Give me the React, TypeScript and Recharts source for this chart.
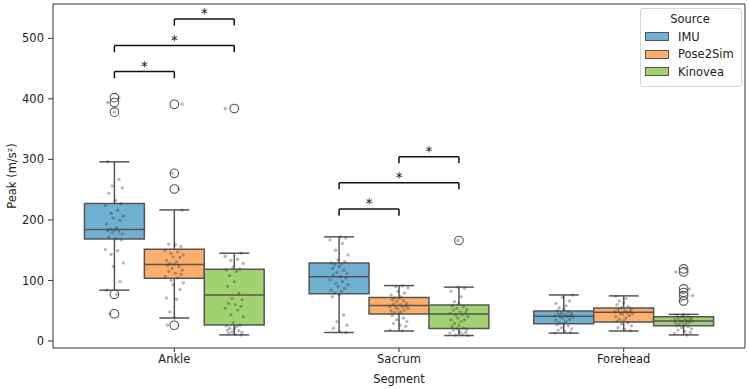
import { ComposedChart, XAxis, YAxis, Scatter, ReferenceArea, ReferenceLine, ReferenceDot, Legend } from 'recharts'

const SEGMENTS = ['Ankle', 'Sacrum', 'Forehead']
const SOURCES = ['IMU', 'Pose2Sim', 'Kinovea']
const COLORS = ['#70b0d3', '#fdae6b', '#a2d270']

// per segment: [lower whisker, q1, median, q3, upper whisker]
const IMU_BOX = [[84, 168.5, 184, 227, 296], [14, 78, 106, 129, 172], [13, 28.5, 41, 49.5, 76]]
const POSE_BOX = [[38, 103.5, 126.5, 151.5, 216.5], [16.5, 44.5, 58.5, 72, 91.5], [16.5, 31.5, 47.5, 54.5, 74.5]]
const KINOVEA_BOX = [[10, 26.5, 76, 118.5, 145], [9, 20.5, 44.5, 59.5, 89], [10, 25, 33, 40, 44]]

// raw peaks (stripplot), outliers included
const ANKLE_IMU = [296, 267, 256, 253, 244, 232, 227, 224, 216, 211, 206, 203, 199, 193, 187, 185, 183, 182, 181, 179, 177, 172, 169, 167, 151, 149, 143, 129, 123, 98, 84, 77, 45, 378, 394, 402]
const ANKLE_POSE = [216, 160, 159, 156, 150, 147, 145, 142, 139, 138, 133, 131, 128, 127, 125, 123, 120, 117, 115, 112, 110, 106, 104, 100, 96, 93, 85, 71, 69, 48, 38, 26, 251, 277, 391]
const ANKLE_KIN = [145, 140, 135, 133, 128, 122, 119, 117, 115, 108, 98, 90, 79, 70, 68, 62, 60, 57, 54, 51, 43, 40, 30, 26, 25, 24, 21, 20, 18, 17, 15, 14, 13, 11, 10, 384]
const SACRUM_IMU = [172, 170, 167, 161, 150, 142, 134, 131, 129, 127, 126, 123, 120, 117, 113, 112, 109, 106, 104, 101, 98, 95, 93, 90, 87, 84, 82, 79, 76, 73, 43, 32, 26, 21, 15, 14]
const SACRUM_POSE = [91, 90, 88, 82, 79, 76, 73, 71, 70, 68, 66, 65, 62, 61, 60, 58, 57, 56, 55, 54, 53, 51, 50, 48, 47, 46, 42, 38, 35, 32, 29, 26, 24, 18, 17]
const SACRUM_KIN = [89, 87, 82, 73, 65, 62, 58, 57, 54, 52, 51, 48, 47, 46, 44, 43, 40, 38, 35, 35, 32, 29, 26, 24, 21, 20, 19, 18, 15, 14, 13, 11, 10, 9, 166]
const FOREHEAD_IMU = [76, 72, 66, 62, 58, 55, 52, 50, 48, 46, 45, 44, 43, 42, 41, 41, 40, 39, 38, 36, 34, 32, 30, 29, 27, 25, 22, 20, 18, 16, 14, 13]
const FOREHEAD_POSE = [74, 70, 66, 63, 60, 57, 55, 53, 51, 50, 49, 48, 47, 46, 45, 44, 42, 40, 38, 36, 34, 32, 30, 28, 25, 22, 19, 17]
const FOREHEAD_KIN = [44, 43, 41, 40, 39, 38, 37, 36, 35, 34, 33, 33, 32, 31, 30, 29, 28, 26, 25, 24, 22, 20, 18, 16, 14, 12, 10, 66, 75, 80, 86, 114, 119]

// significance brackets (bar height, per pair)
const SIG_PAIRS = [[0, 1], [0, 2], [1, 2]]
const ANKLE_SIG = [445, 488, 532]
const SACRUM_SIG = [218, 261.5, 304.5]

const BOXES = [IMU_BOX, POSE_BOX, KINOVEA_BOX]
const RAW = [
  [ANKLE_IMU, ANKLE_POSE, ANKLE_KIN],
  [SACRUM_IMU, SACRUM_POSE, SACRUM_KIN],
  [FOREHEAD_IMU, FOREHEAD_POSE, FOREHEAD_KIN],
]
const SIGS: [number, number[]][] = [[0, ANKLE_SIG], [1, SACRUM_SIG]]

const X_DOMAIN = [-0.54, 2.54]
const Y_DOMAIN = [-11.6, 556.7]
const HUE_W = 0.8 / 3
const JITTER = [-0.03, 0.02, -0.01, 0.035, -0.025, 0.005, 0.03, -0.04, 0.015, -0.015, 0.04, -0.005, 0.025, -0.035, 0.01, -0.02, 0.0]
const EDGE = '#555'
const TXT = '#222'
const FS = 11.5

const hueX = (seg: number, hue: number) => seg + (hue - 1) * HUE_W

const StripDot = (p: any) => <circle cx={p.cx} cy={p.cy} r={1.7} fill="#333" fillOpacity={0.35} />
const Flier = (p: any) => <circle cx={p.cx} cy={p.cy} r={4.3} fill="none" stroke={EDGE} strokeWidth={1.1} />
const Star = (p: any) => (
  <text x={p.cx} y={p.cy - 1} textAnchor="middle" fill="#111" fontSize={13.5}>*</text>
)

function LegendBox() {
  return (
    <div style={{ border: '1px solid #d6d6d6', borderRadius: 3, background: 'rgba(255,255,255,0.85)', padding: '3px 6px 5px 4px', fontSize: FS, color: TXT, width: 90 }}>
      <div style={{ textAlign: 'center', marginBottom: 2 }}>Source</div>
      {SOURCES.map((s, i) => (
        <div key={s} style={{ display: 'flex', alignItems: 'center', height: 17.5 }}>
          <span style={{ display: 'inline-block', width: 22, height: 7, background: COLORS[i], border: `1px solid ${EDGE}`, marginRight: 9 }} />
          <span>{s}</span>
        </div>
      ))}
    </div>
  )
}

export default function App() {
  const strip: { x: number; y: number }[] = []
  const fliers: { x: number; y: number }[] = []
  RAW.forEach((group, seg) =>
    group.forEach((vals, hue) => {
      const [lo, , , , hi] = BOXES[hue][seg]
      vals.forEach((v, i) => {
        const j = JITTER[(i + seg * 5 + hue * 3) % JITTER.length]
        strip.push({ x: hueX(seg, hue) + j, y: v })
        if (v < lo || v > hi) fliers.push({ x: hueX(seg, hue), y: v })
      })
    })
  )

  return (
    <div style={{ position: 'absolute', left: 0, top: 0, fontFamily: 'DejaVu Sans', background: '#fff' }}>
      <ComposedChart width={749} height={389} margin={{ top: 4, right: 4, bottom: 0, left: 0 }}>
        <XAxis
          type="number"
          dataKey="x"
          domain={X_DOMAIN}
          ticks={[0, 1, 2]}
          tickFormatter={(v) => SEGMENTS[v]}
          allowDataOverflow
          height={41}
          tickSize={4}
          tickMargin={3}
          stroke="#333"
          tick={{ fill: TXT, fontSize: FS }}
          label={{ value: 'Segment', position: 'insideBottom', offset: 6, fill: TXT, fontSize: FS }}
        />
        <YAxis
          type="number"
          dataKey="y"
          domain={Y_DOMAIN}
          ticks={[0, 100, 200, 300, 400, 500]}
          allowDataOverflow
          width={53}
          tickSize={5}
          tickMargin={4}
          stroke="#333"
          tick={{ fill: TXT, fontSize: FS }}
          label={{ value: 'Peak (m/s²)', angle: -90, position: 'insideLeft', offset: 12, fill: TXT, fontSize: FS, style: { textAnchor: 'middle' } }}
        />

        {/* boxes */}
        {BOXES.map((box, hue) =>
          box.map(([lo, q1, med, q3, hi], seg) => {
            const cx = hueX(seg, hue)
            const h = HUE_W / 2
            const c = HUE_W / 4
            return [
              <ReferenceLine key={`wl${hue}${seg}`} segment={[{ x: cx, y: lo }, { x: cx, y: q1 }]} stroke={EDGE} strokeWidth={1.5} />,
              <ReferenceLine key={`wh${hue}${seg}`} segment={[{ x: cx, y: q3 }, { x: cx, y: hi }]} stroke={EDGE} strokeWidth={1.5} />,
              <ReferenceLine key={`cl${hue}${seg}`} segment={[{ x: cx - c, y: lo }, { x: cx + c, y: lo }]} stroke={EDGE} strokeWidth={1.5} />,
              <ReferenceLine key={`ch${hue}${seg}`} segment={[{ x: cx - c, y: hi }, { x: cx + c, y: hi }]} stroke={EDGE} strokeWidth={1.5} />,
              <ReferenceArea key={`b${hue}${seg}`} x1={cx - h} x2={cx + h} y1={q1} y2={q3} fill={COLORS[hue]} fillOpacity={1} stroke={EDGE} strokeWidth={1.5} />,
              <ReferenceLine key={`m${hue}${seg}`} segment={[{ x: cx - h, y: med }, { x: cx + h, y: med }]} stroke={EDGE} strokeWidth={1.5} />,
            ]
          })
        )}

        <Scatter data={fliers} shape={Flier} isAnimationActive={false} />
        <Scatter data={strip} shape={StripDot} isAnimationActive={false} />

        {/* significance brackets */}
        {SIGS.map(([seg, levels]) =>
          SIG_PAIRS.map(([a, b], k) => {
            const xa = hueX(seg, a)
            const xb = hueX(seg, b)
            const y = levels[k]
            return [
              <ReferenceLine key={`sa${seg}${k}`} segment={[{ x: xa, y: y - 11 }, { x: xa, y }]} stroke="#111" strokeWidth={1.5} />,
              <ReferenceLine key={`sh${seg}${k}`} segment={[{ x: xa, y }, { x: xb, y }]} stroke="#111" strokeWidth={1.5} />,
              <ReferenceLine key={`sb${seg}${k}`} segment={[{ x: xb, y: y - 11 }, { x: xb, y }]} stroke="#111" strokeWidth={1.5} />,
              <ReferenceDot key={`st${seg}${k}`} x={(xa + xb) / 2} y={y} shape={Star} />,
            ]
          })
        )}

        {/* top / right spines */}
        <ReferenceLine y={Y_DOMAIN[1]} stroke="#333" ifOverflow="visible" />
        <ReferenceLine x={X_DOMAIN[1]} stroke="#333" ifOverflow="visible" />

        <Legend
          layout="horizontal"
          verticalAlign="middle"
          align="center"
          content={() => <LegendBox />}
          wrapperStyle={{ top: 8, left: 640, width: 'auto' }}
        />
      </ComposedChart>
    </div>
  )
}
